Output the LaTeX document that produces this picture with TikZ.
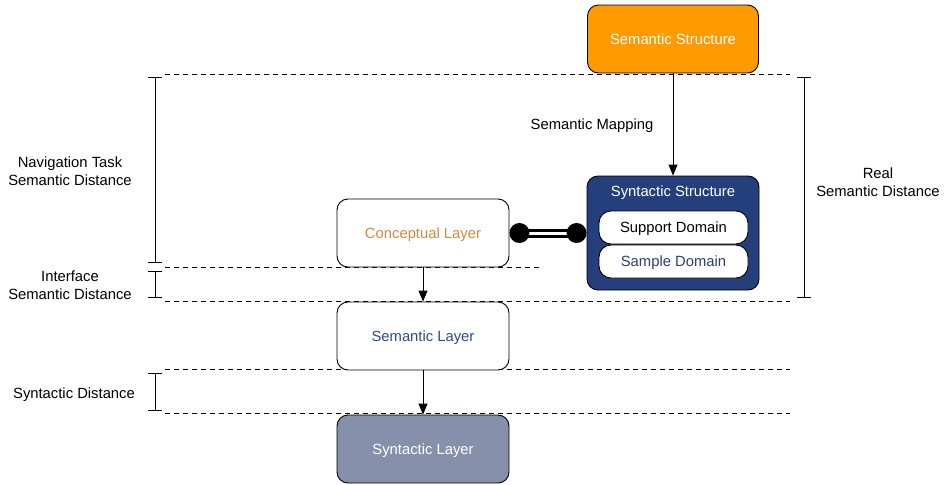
\documentclass[tikz,border=0pt]{standalone}
\usepackage{fontspec}
\setmainfont{Liberation Sans}
\usetikzlibrary{arrows.meta}
\definecolor{structorange}{RGB}{255,154,0}
\definecolor{structblue}{RGB}{36,63,124}
\definecolor{layergray}{RGB}{134,144,170}
\definecolor{concepttext}{RGB}{214,137,64}
\definecolor{semtext}{RGB}{46,74,140}
\definecolor{sampletext}{RGB}{46,63,106}
\begin{document}
\begin{tikzpicture}[x=1pt,y=-1pt,
  every node/.style={font=\fontsize{14.8}{18}\selectfont, inner sep=0pt, align=center},
  oneline/.style={text height=10.5pt, text depth=0pt},
  layerbox/.style={oneline, draw=black, line width=0.9pt, rounded corners=11pt, minimum width=172pt, minimum height=68pt},
  domainbox/.style={oneline, draw=black, line width=0.9pt, fill=white, rounded corners=12pt, minimum width=149pt, minimum height=33pt},
  guide/.style={dashed, dash pattern=on 5pt off 4pt, line width=0.8pt},
  span/.style={line width=0.9pt, {Bar[width=14pt]}-{Bar[width=14pt]}},
  flow/.style={line width=0.9pt, -{Triangle[length=11pt,width=9pt]}}
]
\useasboundingbox (0,0) rectangle (946,485);

% dashed level guides
\coordinate (g1a) at (165,74);  \coordinate (g1b) at (790,74);
\coordinate (g2a) at (165,267); \coordinate (g2b) at (543,267);
\coordinate (g3a) at (165,301); \coordinate (g3b) at (790,301);
\coordinate (g4a) at (165,369); \coordinate (g4b) at (790,369);
\coordinate (g5a) at (165,413); \coordinate (g5b) at (790,413);
\foreach \n in {1,...,5} \draw[guide] (g\n a) -- (g\n b);

% boxes
\node[layerbox, fill=structorange, text=white, minimum width=171pt] (sstruct) at (673,39) {Semantic Structure};
\node[layerbox, fill=structblue, minimum height=114pt] (synstruct) at (673,233) {};
\node[oneline, text=white] (syntitle) at (673,191) {Syntactic Structure};
\node[domainbox] (support) at (673.5,227.5) {Support Domain};
\node[domainbox, text=sampletext] (sample) at (673.5,261.5) {Sample Domain};

\node[layerbox, fill=white, text=concepttext] (concept) at (423,233) {Conceptual Layer};
\node[layerbox, fill=white, text=semtext] (semlayer) at (423,336) {Semantic Layer};
\node[layerbox, fill=layergray, text=white] (synlayer) at (423,449) {Syntactic Layer};

% connectors
\draw[flow] (sstruct.south) -- (synstruct.north);
\node[oneline] (maplabel) at (592,124) {Semantic Mapping};
\draw[flow] (concept.south) -- (semlayer.north);
\draw[flow] (semlayer.south) -- (synlayer.north);

% double link with ball ends
\coordinate (ballL) at ([xshift=10pt]concept.east);
\coordinate (ballR) at ([xshift=-10pt]synstruct.west);
\draw[line width=9pt] (ballL) -- (ballR);
\draw[line width=3pt, white] (ballL) -- (ballR);
\fill (ballL) circle (10pt);
\fill (ballR) circle (10pt);

% distance spans
\coordinate (nt1) at (155,77);  \coordinate (nt2) at (155,263);
\coordinate (if1) at (155,271); \coordinate (if2) at (155,298);
\coordinate (sd1) at (155,373); \coordinate (sd2) at (155,411);
\coordinate (rs1) at (804,77);  \coordinate (rs2) at (804,298);
\draw[span] (nt1) -- (nt2);
\draw[span] (if1) -- (if2);
\draw[span] (sd1) -- (sd2);
\draw[span] (rs1) -- (rs2);

\node (navlabel) at (70,171.5) {Navigation Task\\Semantic Distance};
\node (iflabel) at (70,285) {Interface\\Semantic Distance};
\node[oneline] (sdlabel) at (74,393) {Syntactic Distance};
\node (rslabel) at (878,182) {Real\\Semantic Distance};
\end{tikzpicture}
\end{document}
